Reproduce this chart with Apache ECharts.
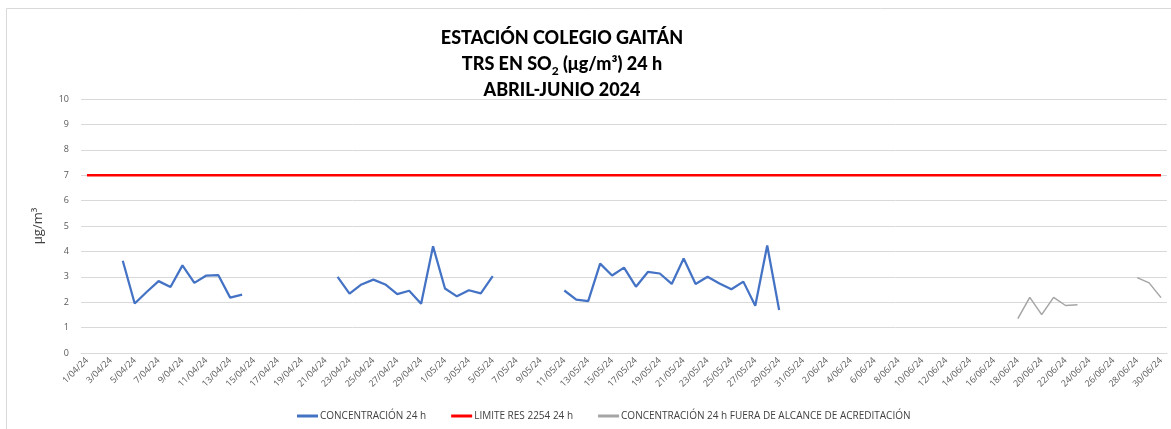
<!DOCTYPE html>
<html lang="es">
<head>
<meta charset="utf-8">
<title>TRS en SO2 - Estación Colegio Gaitán</title>
<script src="https://cdn.jsdelivr.net/npm/echarts@6/dist/echarts.min.js"></script>
<style>
  html, body { margin: 0; padding: 0; background: #fff; }
  #main { width: 1171px; height: 429px; }
</style>
</head>
<body>
<div id="main"></div>
<script type="text/javascript">
// fechas del eje x (1 abril - 30 junio 2024)
var fechas = [
  '1/04/24','2/04/24','3/04/24','4/04/24','5/04/24','6/04/24','7/04/24','8/04/24','9/04/24','10/04/24',
  '11/04/24','12/04/24','13/04/24','14/04/24','15/04/24','16/04/24','17/04/24','18/04/24','19/04/24','20/04/24',
  '21/04/24','22/04/24','23/04/24','24/04/24','25/04/24','26/04/24','27/04/24','28/04/24','29/04/24','30/04/24',
  '1/05/24','2/05/24','3/05/24','4/05/24','5/05/24','6/05/24','7/05/24','8/05/24','9/05/24','10/05/24',
  '11/05/24','12/05/24','13/05/24','14/05/24','15/05/24','16/05/24','17/05/24','18/05/24','19/05/24','20/05/24',
  '21/05/24','22/05/24','23/05/24','24/05/24','25/05/24','26/05/24','27/05/24','28/05/24','29/05/24','30/05/24',
  '31/05/24','1/06/24','2/06/24','3/06/24','4/06/24','5/06/24','6/06/24','7/06/24','8/06/24','9/06/24',
  '10/06/24','11/06/24','12/06/24','13/06/24','14/06/24','15/06/24','16/06/24','17/06/24','18/06/24','19/06/24',
  '20/06/24','21/06/24','22/06/24','23/06/24','24/06/24','25/06/24','26/06/24','27/06/24','28/06/24','29/06/24',
  '30/06/24'
];

// concentración 24 h (tramos con datos; fecha inicial de cada tramo)
var conc1Inicio = '4/04/24';
var conc1 = [3.63, 1.95, 2.40, 2.83, 2.60, 3.45, 2.76, 3.05, 3.07, 2.18, 2.30];
var conc2Inicio = '22/04/24';
var conc2 = [3.00, 2.34, 2.70, 2.89, 2.70, 2.32, 2.45, 1.94, 4.20, 2.54, 2.23, 2.47, 2.35, 3.03];
var conc3Inicio = '11/05/24';
var conc3 = [2.46, 2.10, 2.04, 3.52, 3.05, 3.36, 2.61, 3.19, 3.13, 2.72, 3.72, 2.72, 3.00, 2.74, 2.51, 2.81, 1.86, 4.23, 1.69];

// concentración fuera de alcance de acreditación
var fuera1Inicio = '18/06/24';
var fuera1 = [1.35, 2.19, 1.51, 2.19, 1.87, 1.90];
var fuera2Inicio = '28/06/24';
var fuera2 = [2.97, 2.76, 2.18];

// límite Res 2254 (24 h)
var limite = 7;

function tramos(lista) {
    var out = fechas.map(function () { return null; });
    lista.forEach(function (t) {
        var i0 = fechas.indexOf(t[0]);
        for (var k = 0; k < t[1].length; k++) out[i0 + k] = t[1][k];
    });
    return out;
}

var serieConc = tramos([[conc1Inicio, conc1], [conc2Inicio, conc2], [conc3Inicio, conc3]]);
var serieFuera = tramos([[fuera1Inicio, fuera1], [fuera2Inicio, fuera2]]);
var serieLimite = fechas.map(function () { return limite; });

var fuente = '"Open Sans", Lato, "DejaVu Sans", sans-serif';
var fuenteTitulo = 'Lato, "Open Sans", sans-serif';

var myChart = echarts.init(document.getElementById('main'));
var option = {
    animation: false,
    textStyle: { fontFamily: fuente },
    graphic: [{
        type: 'rect',
        shape: { x: 6.5, y: 8.5, width: 1180, height: 440 },
        style: { fill: 'none', stroke: '#d9d9d9', lineWidth: 1 },
        silent: true
    }],
    title: {
        text: '{b|ESTACIÓN COLEGIO GAITÁN}\n{b|TRS EN SO}{s|2}{b| (μg/m³) 24 h}\n{b|ABRIL-JUNIO 2024}',
        left: 557,
        top: 20,
        textAlign: 'center',
        textStyle: {
            rich: {
                b: { fontSize: 18, fontWeight: 900, color: '#000', fontFamily: fuenteTitulo, lineHeight: 26 },
                s: { fontSize: 12, fontWeight: 900, color: '#000', fontFamily: fuenteTitulo, lineHeight: 26, verticalAlign: 'bottom', padding: [8, 0, 0, 0] }
            }
        }
    },
    legend: {
        bottom: 3,
        left: 292,
        itemGap: 25,
        itemWidth: 21,
        itemHeight: 3,
        icon: 'rect',
        textStyle: { fontSize: 10, color: '#404040', padding: [0, 0, 0, -3] },
        data: ['CONCENTRACIÓN 24 h', 'LIMITE RES 2254 24 h', 'CONCENTRACIÓN 24 h FUERA DE ALCANCE DE ACREDITACIÓN']
    },
    grid: { left: 81, right: 4, top: 99, bottom: 76 },
    xAxis: {
        type: 'category',
        data: fechas,
        boundaryGap: true,
        axisLine: { lineStyle: { color: '#d9d9d9' } },
        axisTick: { show: false },
        axisLabel: { rotate: 45, interval: 1, fontSize: 9, color: '#595959', margin: 6 }
    },
    yAxis: {
        type: 'value',
        min: 0,
        max: 10,
        interval: 1,
        name: 'μg/m³',
        nameLocation: 'middle',
        nameGap: 36,
        nameTextStyle: { fontSize: 13, color: '#404040' },
        axisLine: { show: false },
        axisTick: { show: false },
        axisLabel: { fontSize: 9, color: '#595959', margin: 12 },
        splitLine: { lineStyle: { color: '#d9d9d9' } }
    },
    series: [{
        name: 'CONCENTRACIÓN 24 h',
        type: 'line',
        data: serieConc,
        symbol: 'none',
        connectNulls: false,
        itemStyle: { color: '#4472C4' },
        lineStyle: { color: '#4472C4', width: 2.25 }
    }, {
        name: 'LIMITE RES 2254 24 h',
        type: 'line',
        data: serieLimite,
        symbol: 'none',
        itemStyle: { color: '#FF0000' },
        lineStyle: { color: '#FF0000', width: 2.5 }
    }, {
        name: 'CONCENTRACIÓN 24 h FUERA DE ALCANCE DE ACREDITACIÓN',
        type: 'line',
        data: serieFuera,
        symbol: 'none',
        connectNulls: false,
        itemStyle: { color: '#A5A5A5' },
        lineStyle: { color: '#A5A5A5', width: 1.5 }
    }]
};

myChart.setOption(option);
</script>
</body>
</html>
